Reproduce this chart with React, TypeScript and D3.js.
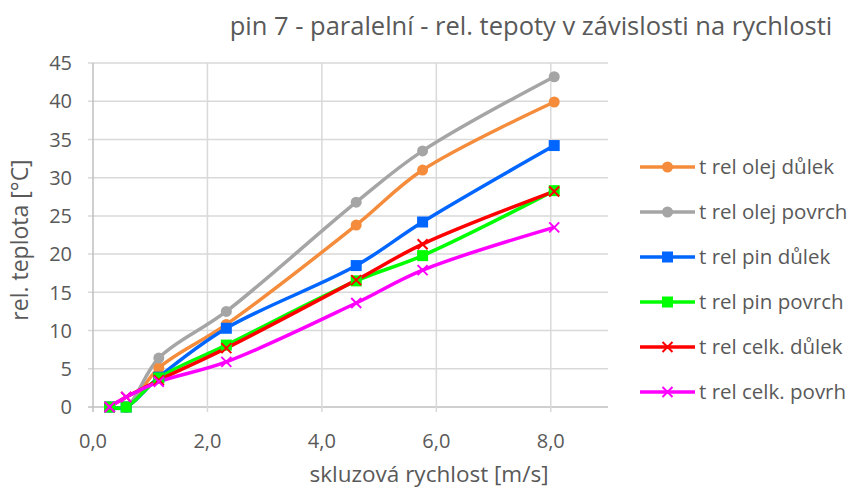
import { curveCatmullRom, line, scaleLinear } from 'd3'

const speeds = [0.29, 0.58, 1.15, 2.33, 4.6, 5.76, 8.06]
const olejDulek = [0, 0, 5.1, 10.8, 23.8, 31.0, 39.9]
const olejPovrch = [0, 0, 6.4, 12.5, 26.8, 33.5, 43.2]
const pinDulek = [0, 0, 3.9, 10.3, 18.5, 24.2, 34.2]
const pinPovrch = [0, 0, 3.8, 8.1, 16.5, 19.8, 28.3]
const celkDulek = [0, 1.3, 3.5, 7.7, 16.6, 21.3, 28.2]
const celkPovrh = [0, 1.3, 3.3, 5.9, 13.6, 17.9, 23.5]

const xTickValues = [0, 2, 4, 6, 8]
const yTickValues = [0, 5, 10, 15, 20, 25, 30, 35, 40, 45]

const title = 'pin 7 - paralelní - rel. tepoty v závislosti na rychlosti'
const xTitle = 'skluzová rychlost [m/s]'
const yTitle = 'rel. teplota [°C]'

type Marker = 'circle' | 'square' | 'x'

const series: { name: string; values: number[]; color: string; marker: Marker }[] = [
  { name: 't rel olej důlek', values: olejDulek, color: '#F48C3C', marker: 'circle' },
  { name: 't rel olej povrch', values: olejPovrch, color: '#A5A5A5', marker: 'circle' },
  { name: 't rel pin důlek', values: pinDulek, color: '#0066FF', marker: 'square' },
  { name: 't rel pin povrch', values: pinPovrch, color: '#00FF00', marker: 'square' },
  { name: 't rel celk. důlek', values: celkDulek, color: '#FF0000', marker: 'x' },
  { name: 't rel celk. povrh', values: celkPovrh, color: '#FF00FF', marker: 'x' },
]

const width = 855
const height = 492
const plot = { left: 93, right: 608, top: 63, bottom: 407 }
const font = '"Open Sans", Lato, sans-serif'
const textColor = '#595959'
const gridColor = '#D9D9D9'

const MarkerShape = ({ type, x, y, color }: { type: Marker; x: number; y: number; color: string }) => {
  if (type === 'circle') return <circle cx={x} cy={y} r={5.5} fill={color} />
  if (type === 'square') return <rect x={x - 5.5} y={y - 5.5} width={11} height={11} fill={color} />
  return (
    <path
      d={`M${x - 5},${y - 5}L${x + 5},${y + 5}M${x - 5},${y + 5}L${x + 5},${y - 5}`}
      stroke={color}
      strokeWidth={2}
      fill="none"
    />
  )
}

const App = () => {
  const xScale = scaleLinear().domain([0, 9]).range([plot.left, plot.right])
  const yScale = scaleLinear().domain([0, 45]).range([plot.bottom, plot.top])

  const lineGen = line<number>()
    .x((_, i) => xScale(speeds[i]))
    .y((d) => yScale(d))
    .curve(curveCatmullRom.alpha(0.5))

  const legendX = 640
  const legendY0 = 167
  const legendStep = 45

  return (
    <svg
      width={width}
      height={height}
      viewBox={`0 0 ${width} ${height}`}
      style={{ position: 'absolute', left: 0, top: 0, background: 'white' }}
      fontFamily={font}
    >
      <rect width={width} height={height} fill="white" />
      <text x={531} y={35} textAnchor="middle" fontSize={25.5} fill={textColor}>
        {title}
      </text>

      {yTickValues.map((v) => (
        <g key={`y${v}`}>
          <line
            x1={plot.left - 5}
            x2={plot.right}
            y1={yScale(v)}
            y2={yScale(v)}
            stroke={v === 0 ? '#BFBFBF' : gridColor}
            strokeWidth={1.5}
          />
          <text x={72} y={yScale(v)} dy="0.36em" textAnchor="end" fontSize={20} fill={textColor}>
            {v}
          </text>
        </g>
      ))}

      {xTickValues.map((v) => (
        <g key={`x${v}`}>
          <line
            x1={xScale(v)}
            x2={xScale(v)}
            y1={plot.top}
            y2={plot.bottom + 5}
            stroke={v === 0 ? '#BFBFBF' : gridColor}
            strokeWidth={1.5}
          />
          <text x={xScale(v)} y={448} textAnchor="middle" fontSize={20} fill={textColor}>
            {v.toFixed(1).replace('.', ',')}
          </text>
        </g>
      ))}

      <text x={429} y={482} textAnchor="middle" fontSize={22.5} fill={textColor}>
        {xTitle}
      </text>
      <text
        transform={`translate(28, 240) rotate(-90)`}
        textAnchor="middle"
        fontSize={23}
        fill={textColor}
      >
        {yTitle}
      </text>

      {series.map((s) => (
        <path
          key={s.name}
          d={lineGen(s.values) ?? ''}
          fill="none"
          stroke={s.color}
          strokeWidth={3.5}
          strokeLinejoin="round"
        />
      ))}
      {series.map((s) =>
        s.values.map((v, i) => (
          <MarkerShape key={`${s.name}-${i}`} type={s.marker} x={xScale(speeds[i])} y={yScale(v)} color={s.color} />
        )),
      )}

      {series.map((s, i) => {
        const y = legendY0 + i * legendStep
        return (
          <g key={`lg-${s.name}`}>
            <line x1={legendX} x2={legendX + 55} y1={y} y2={y} stroke={s.color} strokeWidth={3.5} />
            <MarkerShape type={s.marker} x={legendX + 27.5} y={y} color={s.color} />
            <text x={legendX + 59} y={y} dy="0.36em" fontSize={20.5} fill={textColor}>
              {s.name}
            </text>
          </g>
        )
      })}
    </svg>
  )
}

export default App
